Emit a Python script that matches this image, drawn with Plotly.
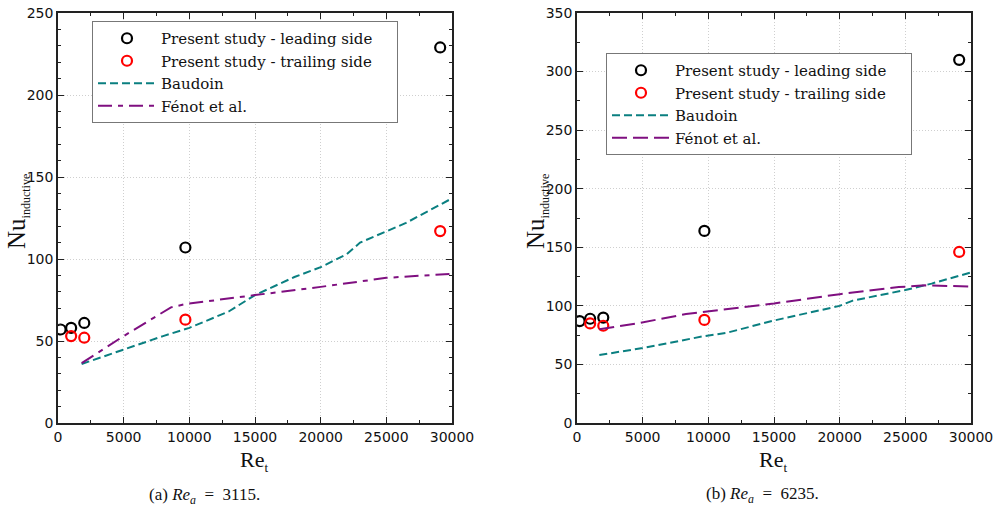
import plotly.graph_objects as go

# ---- data: (a) Re_a = 3115 ----
re_lead_a = [200, 1000, 2000, 9700, 29100]
nu_lead_a = [57, 58, 61, 107, 229]
re_trail_a = [1000, 2000, 9700, 29100]
nu_trail_a = [53, 52, 63, 117]
re_baud_a = [1800, 5000, 8000, 10000, 13000, 15000, 18000, 20000, 22000, 23000, 26500, 30000]
nu_baud_a = [36, 45, 53, 58, 68, 78, 89, 95, 103, 110, 122, 137]
re_fenot_a = [1800, 5000, 8600, 9700, 15000, 20000, 25000, 30000]
nu_fenot_a = [36.5, 53, 70.5, 72.5, 78, 83, 88.5, 91]

# ---- data: (b) Re_a = 6235 ----
re_lead_b = [200, 1000, 2000, 9700, 29100]
nu_lead_b = [87, 89, 90, 164, 310]
re_trail_b = [1000, 2000, 9700, 29100]
nu_trail_b = [85, 83, 88, 146]
re_baud_b = [1700, 5000, 9600, 11400, 15000, 20000, 21000, 25000, 27000, 30000]
nu_baud_b = [58, 64, 74, 77, 87.5, 100, 104.5, 113.5, 119, 128.5]
re_fenot_b = [1700, 4800, 8300, 10400, 15000, 20000, 24500, 26500, 28200, 30000]
nu_fenot_b = [80, 85.5, 93, 96, 102, 110, 116, 117.5, 117, 116.5]

PAD = "\u00a0" * 4
NB = "\u00a0"
names = ["Present study - leading side" + PAD, "Present study - trailing side" + PAD, "Baudoin", "Fénot et al."]
captions = ["(a) <i>Re<sub>a</sub></i>" + NB * 2 + "=" + NB * 2 + "3115.",
            "(b) <i>Re<sub>a</sub></i>" + NB * 2 + "=" + NB * 2 + "6235."]
x_title = "Re<sub><span style='font-size:13px'>t</span></sub>"
y_title = "Nu<sub><span style='font-size:12px'>inductive</span></sub>"

TEAL = "#0a7f80"
PURPLE = "#7f0f80"
SERIF = "DejaVu Serif"
SANS = "DejaVu Sans"
CM = "Liberation Serif"

fig = go.Figure()

def add_panel(sfx, legend, lead, trail, baud, fenot, fenot_dash):
    xa, ya = "x" + sfx, "y" + sfx
    fig.add_trace(go.Scatter(x=lead[0], y=lead[1], mode="markers", name=names[0],
                             marker=dict(symbol="circle-open", size=10, color="black", line=dict(width=2.2)),
                             xaxis=xa, yaxis=ya, legend=legend))
    fig.add_trace(go.Scatter(x=trail[0], y=trail[1], mode="markers", name=names[1],
                             marker=dict(symbol="circle-open", size=10, color="red", line=dict(width=2.2)),
                             xaxis=xa, yaxis=ya, legend=legend))
    fig.add_trace(go.Scatter(x=baud[0], y=baud[1], mode="lines", name=names[2],
                             line=dict(color=TEAL, width=2, dash="8px,4px"),
                             xaxis=xa, yaxis=ya, legend=legend))
    fig.add_trace(go.Scatter(x=fenot[0], y=fenot[1], mode="lines", name=names[3],
                             line=dict(color=PURPLE, width=2, dash=fenot_dash),
                             xaxis=xa, yaxis=ya, legend=legend))

add_panel("", "legend", (re_lead_a, nu_lead_a), (re_trail_a, nu_trail_a),
          (re_baud_a, nu_baud_a), (re_fenot_a, nu_fenot_a), "14px,6px,5px,6px")
add_panel("2", "legend2", (re_lead_b, nu_lead_b), (re_trail_b, nu_trail_b),
          (re_baud_b, nu_baud_b), (re_fenot_b, nu_fenot_b), "15px,6px")

W, H = 995, 507
top, bottom = 13, 423
ydom = [1 - bottom / H, 1 - top / H]
LX = (58, 452)
RX = (577, 971)

common_axis = dict(showline=True, linecolor="#222", linewidth=1.5, mirror="allticks",
                   ticks="inside", ticklen=6, tickcolor="#222", automargin=False,
                   showgrid=True, gridcolor="#cfcfcf", griddash="1px,2px", gridwidth=1,
                   zeroline=False, tickfont=dict(family=SANS, size=14, color="#111"))

def xaxis(dom, anchor):
    return dict(domain=[dom[0] / W, dom[1] / W], anchor=anchor, range=[0, 30000], dtick=5000, tick0=0,
                tickformat="d",
                minor=dict(dtick=2500, ticks="inside", ticklen=3, tickcolor="#222", showgrid=False),
                **common_axis)

def yaxis(anchor, rmax, minor):
    return dict(domain=ydom, anchor=anchor, range=[0, rmax], dtick=50, tick0=0,
                minor=dict(dtick=minor, ticks="inside", ticklen=3, tickcolor="#222", showgrid=False),
                **common_axis)

leg_common = dict(font=dict(family=SERIF, size=15, color="#111"), bgcolor="white",
                  bordercolor="#777", borderwidth=1, xanchor="left", yanchor="top",
                  tracegroupgap=0, itemwidth=58)

def A(text, x, y, size, angle=0):
    return dict(text=text, x=x / W, y=1 - y / H, xref="paper", yref="paper",
                xanchor="center", yanchor="middle", textangle=angle, showarrow=False,
                font=dict(family=CM, size=size, color="#111"))

ann = []
for (x0, x1) in [LX, RX]:
    ann.append(A(x_title, (x0 + x1) / 2 - 1, 461, 22))
    ann.append(A(y_title, x0 - 40, 212, 25, -90))
ann.append(A(captions[0], 204, 496, 17))
ann.append(A(captions[1], 762, 495, 17))

fig.update_layout(
    width=W, height=H, margin=dict(l=0, r=0, t=0, b=0),
    plot_bgcolor="white", paper_bgcolor="white",
    xaxis=xaxis(LX, "y"),
    yaxis=yaxis("x", 250, 10),
    xaxis2=xaxis(RX, "y2"),
    yaxis2=yaxis("x2", 350, 25),
    legend=dict(x=92 / W, y=1 - 21 / H, **leg_common),
    legend2=dict(x=606 / W, y=1 - 53 / H, **leg_common),
    annotations=ann,
)

fig.write_html("out.html", config={"displayModeBar": False},
               post_script="document.body.style.margin='0';document.body.style.overflow='hidden';")
